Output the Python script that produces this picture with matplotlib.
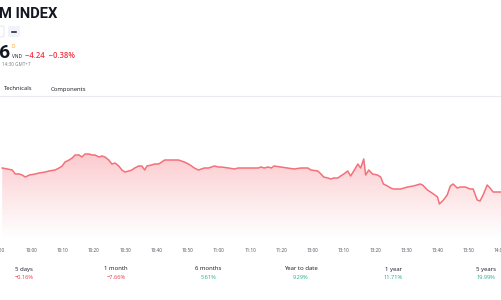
import numpy as np
import matplotlib.pyplot as plt
from matplotlib.patches import Polygon, FancyBboxPatch
from matplotlib.lines import Line2D

# trading minutes since 09:50 (lunch break removed) and index level
minutes = [0.7, 2.4, 3.9, 4.9, 6.2, 7.1, 8.1, 9.4, 11.3, 12.5, 14.5, 15.7, 17.6, 18.9,
           19.9, 20.8, 22.1, 23.1, 24.0, 25.3, 26.2, 27.2, 28.5, 29.4, 30.4, 31.7, 32.6,
           33.6, 34.8, 35.8, 36.8, 38.0, 39.0, 40.0, 41.2, 42.2, 43.1, 44.4, 45.4, 46.3,
           47.0, 48.5, 49.5, 50.8, 51.7, 52.7, 54.0, 55.9, 57.1, 58.1, 59.0, 60.3, 61.3,
           62.2, 63.5, 64.5, 65.4, 66.7, 68.6, 69.9, 70.8, 73.1, 75.0, 76.2, 78.2, 80.4,
           82.6, 83.6, 84.5, 85.8, 86.8, 87.7, 89.9, 92.2, 94.1, 96.3, 98.5, 99.5, 101.7,
           102.7, 103.6, 104.9, 105.9, 106.8, 108.1, 109.0, 110.0, 111.3, 112.2, 113.2,
           114.5, 115.4, 116.4, 117.0, 118.0, 119.2, 120.8, 121.8, 122.7, 124.0, 125.0,
           125.9, 128.2, 130.4, 132.3, 134.5, 135.2, 136.8, 138.7, 140.0, 140.6, 141.9,
           143.1, 144.1, 145.0, 146.3, 147.3, 148.9, 150.4, 151.4, 152.7, 153.6, 154.6,
           155.9, 156.8, 157.8, 159.1, 160.5]
prices = [1120.76, 1120.56, 1120.36, 1119.56, 1119.56, 1119.36, 1118.96, 1119.36, 1119.56,
          1119.76, 1119.96, 1120.16, 1120.36, 1120.76, 1121.16, 1121.96, 1122.36, 1122.76,
          1123.36, 1123.36, 1122.96, 1123.56, 1123.56, 1123.36, 1123.36, 1122.96, 1123.16,
          1122.96, 1122.36, 1121.56, 1121.76, 1121.16, 1120.36, 1119.96, 1120.16, 1120.36,
          1120.76, 1121.16, 1121.16, 1120.36, 1121.16, 1121.36, 1121.56, 1121.56, 1121.96,
          1122.36, 1122.36, 1122.36, 1122.36, 1122.16, 1121.96, 1121.56, 1121.16, 1120.76,
          1120.36, 1120.56, 1120.76, 1120.76, 1121.16, 1120.96, 1120.96, 1120.76, 1120.56,
          1120.76, 1120.76, 1120.76, 1120.76, 1120.96, 1120.76, 1120.96, 1120.76, 1121.16,
          1120.96, 1120.76, 1120.56, 1120.76, 1120.76, 1120.36, 1120.16, 1119.56, 1118.96,
          1118.76, 1118.56, 1118.76, 1118.76, 1119.16, 1119.56, 1120.16, 1119.16, 1120.16,
          1121.56, 1120.76, 1122.56, 1119.36, 1120.36, 1119.56, 1119.36, 1118.96, 1117.56,
          1117.16, 1116.76, 1116.56, 1116.56, 1116.96, 1117.16, 1117.56, 1117.36, 1116.36,
          1115.56, 1114.96, 1113.56, 1114.36, 1115.36, 1117.16, 1117.56, 1116.76, 1116.96,
          1116.96, 1116.56, 1116.56, 1114.36, 1114.16, 1115.36, 1117.36, 1116.76, 1115.96,
          1115.96, 1115.96]

tick_pos = [0, 10, 20, 30, 40, 50, 60, 70, 80, 90, 100, 110, 120, 130, 140, 150, 160]
tick_labels = ["9:50", "10:00", "10:10", "10:20", "10:30", "10:40", "10:50", "11:00",
               "11:10", "11:20", "13:00", "13:10", "13:20", "13:30", "13:40", "13:50", "14:00"]

perf_names = ["5 days", "1 month", "6 months", "Year to date", "1 year", "5 years"]
perf_values = ["\u22120.16%", "\u22127.66%", "5.61%", "9.29%", "11.71%", "19.99%"]

W, H = 501, 300
RED = "#f23645"
GREEN = "#22ab94"
FONT = "Open Sans"

fig = plt.figure(figsize=(W / 100, H / 100), dpi=100)
fig.patch.set_facecolor("white")


def px(x, y):
    return x / W, 1 - y / H


def ftext(x, y, s, **kw):
    kw.setdefault("family", FONT)
    fig.text(*px(x, y), s, **kw)


# header
ftext(-1, 14, "M INDEX", fontsize=10.6, fontweight="bold", color="#131722",
      family="Roboto", va="center", ha="left")
fig.patches.append(FancyBboxPatch(px(-6, 37), 10 / W, 11 / H, boxstyle="round,pad=0,rounding_size=0.004",
                                  transform=fig.transFigure, fc="white", ec="#e0e3eb", lw=0.6))
fig.patches.append(FancyBboxPatch(px(8, 37), 12 / W, 11 / H, boxstyle="round,pad=0,rounding_size=0.004",
                                  transform=fig.transFigure, fc="#f0f3fa", ec="none"))
fig.lines.append(Line2D([12 / W, 16 / W], [1 - 31.5 / H] * 2, transform=fig.transFigure,
                        color="#131722", lw=1.1))

ftext(-1, 53, "6", fontsize=14, fontweight="bold", color="#131722", va="center",
      family="Roboto")
ftext(12, 46, "D", fontsize=3.4, color="#ff9800", va="center")
ftext(12, 56.5, "VND", fontsize=3.4, color="#131722", va="center")
ftext(25, 55.5, "\u22124.24  \u22120.38%", fontsize=5.5, color=RED, va="center",
      fontweight="semibold")
ftext(2, 65, "14:30 GMT+7", fontsize=3.3, color="#787b86", va="center")

ftext(4, 89, "Technicals", fontsize=4.2, color="#131722", va="center")
ftext(51, 89, "Components", fontsize=4.2, color="#131722", va="center")
fig.lines.append(Line2D([0, 1], [1 - 96 / H] * 2, transform=fig.transFigure,
                        color="#e9ebf0", lw=0.8))

# chart area
ax = fig.add_axes([0, 60 / H, 1, 140 / H])
x0 = (0 + 2.4) / 3.14
x1 = (W + 2.4) / 3.14
ymin, ymax = 1106.36, 1134.36
ax.set_xlim(x0, x1)
ax.set_ylim(ymin, ymax)

verts = [(minutes[0], ymin)] + list(zip(minutes, prices)) + [(minutes[-1], ymin)]
clip = Polygon(verts, closed=True, facecolor="none", edgecolor="none")
ax.add_patch(clip)
top = max(prices)
grad = np.zeros((200, 1, 4))
rgb = np.array([242, 54, 69]) / 255
grad[:, 0, :3] = rgb
grad[:, 0, 3] = np.linspace(0.3, 0.0, 200) ** 1.1
im = ax.imshow(grad, aspect="auto", extent=[minutes[0], minutes[-1], ymin, top],
               origin="upper", interpolation="bilinear")
im.set_clip_path(clip)
ax.plot(minutes, prices, color="#f4707a", lw=1.1, solid_joinstyle="round")

for s in ax.spines.values():
    s.set_visible(False)
ax.set_yticks([])
ax.set_xticks(tick_pos)
ax.set_xticklabels(tick_labels, family=FONT, fontsize=3.3, color="#4a4e59")
ax.tick_params(axis="x", length=0, pad=5.5)
ax.set_facecolor("none")

# performance row
for i, (name, val) in enumerate(zip(perf_names, perf_values)):
    cx = 24 + i * 92.3
    ftext(cx, 269, name, fontsize=4.3, color="#131722", ha="center", va="center")
    c = RED if val.startswith("\u2212") else GREEN
    ftext(cx, 277.5, val, fontsize=4.1, color=c, ha="center", va="center")

fig.savefig("out.png", dpi=100)
